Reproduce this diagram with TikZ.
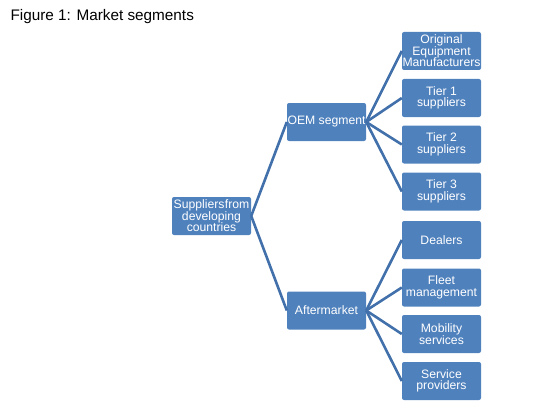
\documentclass[tikz,border=0pt]{standalone}
\usepackage{fontspec}
\setmainfont{Liberation Sans}
\definecolor{boxblue}{HTML}{4F81BD}
\definecolor{lineblue}{HTML}{4170AA}
\begin{document}
\begin{tikzpicture}[x=1pt,y=-1pt,
  box/.style={fill=boxblue, rounded corners=2pt, minimum width=79pt, minimum height=38pt,
    inner sep=0pt, text=white, align=center, font=\fontsize{12.2}{11.6}\selectfont},
  conn/.style={draw=lineblue, line width=2.6pt}]
\useasboundingbox (0,0) rectangle (533,412);
\node[anchor=west, font=\fontsize{15.3}{18}\selectfont] (title) at (7,17) {Figure 1: Market segments};
\node[box] (root) at (211.5,216) {Suppliers\hspace{0.4pt}from\\developing\\countries};
\node[box] (oem) at (326.5,122) {OEM segment};
\node[box] (aft) at (326.5,310.5) {Aftermarket};
\node[box] (c1) at (441.5,51) {Original\\Equipment\\Manufacturers};
\node[box] (c2) at (441.5,98) {Tier 1\\suppliers};
\node[box] (c3) at (441.5,144.5) {Tier 2\\suppliers};
\node[box] (c4) at (441.5,191.5) {Tier 3\\suppliers};
\node[box] (d1) at (441.5,240) {Dealers};
\node[box] (d2) at (441.5,287.5) {Fleet\\management};
\node[box] (d3) at (441.5,334) {Mobility\\services};
\node[box] (d4) at (441.5,381) {Service\\providers};
\draw[conn] (root.east) -- (oem.west);
\draw[conn] (root.east) -- (aft.west);
\foreach \n in {c1,c2,c3,c4} \draw[conn] (oem.east) -- (\n.west);
\foreach \n in {d1,d2,d3,d4} \draw[conn] (aft.east) -- (\n.west);
\end{tikzpicture}
\end{document}
